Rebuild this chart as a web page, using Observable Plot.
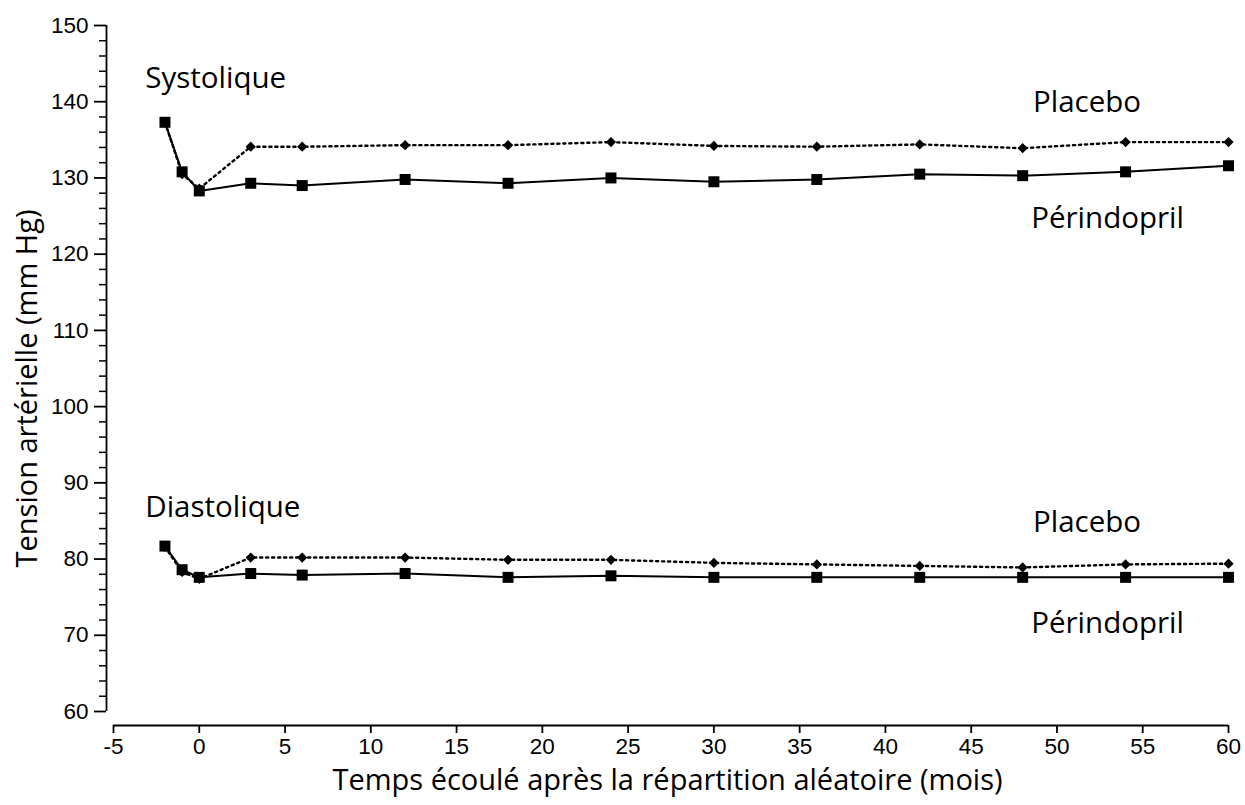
<!DOCTYPE html>
<html>
<head>
<meta charset="utf-8">
<script src="https://cdn.jsdelivr.net/npm/d3@7"></script>
<script src="https://cdn.jsdelivr.net/npm/@observablehq/plot@0.6"></script>
<style>
  html, body { margin: 0; padding: 0; background: #fff; }
  #chart svg { display: block; }
</style>
</head>
<body>
<div id="chart"></div>
<script>
// ---- data ----
const months = [-2, -1, 0, 3, 6, 12, 18, 24, 30, 36, 42, 48, 54, 60];
const sysPerindopril = [137.3, 130.8, 128.3, 129.3, 129.0, 129.8, 129.3, 130.0, 129.5, 129.8, 130.5, 130.3, 130.8, 131.6];
const sysPlacebo     = [137.3, 130.5, 128.6, 134.1, 134.1, 134.3, 134.3, 134.7, 134.2, 134.1, 134.4, 133.9, 134.7, 134.7];
const diaPerindopril = [81.7, 78.6, 77.6, 78.1, 77.9, 78.1, 77.6, 77.8, 77.6, 77.6, 77.6, 77.6, 77.6, 77.6];
const diaPlacebo     = [81.6, 78.3, 77.4, 80.2, 80.2, 80.2, 79.9, 79.9, 79.5, 79.3, 79.1, 78.9, 79.3, 79.4];

const xTicks = d3.range(-5, 61, 5);
const yMajorTicks = d3.range(60, 151, 10);
const yMinorTicks = d3.range(60, 151, 2).filter(v => v % 10 !== 0);

const annotations = [
  {x: -3.15, y: 143.0, text: "Systolique"},
  {x: 48.6, y: 139.9, text: "Placebo"},
  {x: 48.5, y: 124.7, text: "Périndopril"},
  {x: -3.15, y: 86.7, text: "Diastolique"},
  {x: 48.6, y: 84.8, text: "Placebo"},
  {x: 48.5, y: 71.6, text: "Périndopril"}
];

const xTitle = "Temps écoulé après la répartition aléatoire (mois)";
const yTitle = "Tension artérielle (mm Hg)";

const toRows = (vals) => months.map((m, i) => ({x: m, y: vals[i]}));
const sysPer = toRows(sysPerindopril), sysPla = toRows(sysPlacebo);
const diaPer = toRows(diaPerindopril), diaPla = toRows(diaPlacebo);

const tickFont = "'Liberation Sans', Arial, sans-serif";
const textFont = "'Open Sans', 'Noto Sans', sans-serif";

const dotted = {stroke: "#000", strokeWidth: 2.4, strokeDasharray: "2.2,3.8"};
const solid = {stroke: "#000", strokeWidth: 2};

const chart = Plot.plot({
  width: 1245,
  height: 805,
  marginLeft: 106,
  marginRight: 17,
  marginTop: 25,
  marginBottom: 80,
  style: {background: "#fff", color: "#000", overflow: "visible", fontSize: "22.5px", fontFamily: tickFont},
  x: {domain: [-5, 60], range: [113, 1228]},
  y: {domain: [60, 150], range: [711, 25]},
  marks: [
    // axis lines
    Plot.ruleX([-5], {y1: 60, y2: 150, dx: -7, stroke: "#000", strokeWidth: 1.8}),
    Plot.ruleY([60], {x1: -5, x2: 60, dy: 14, stroke: "#000", strokeWidth: 1.8}),
    // y ticks
    Plot.axisY({ticks: yMinorTicks, tickSize: 7, text: null, strokeWidth: 1.5, label: null}),
    Plot.axisY({ticks: yMajorTicks, tickSize: 12, tickPadding: 6, strokeWidth: 1.8, label: null,
      fontSize: 22.5, tickFormat: d => String(d)}),
    // x ticks
    Plot.axisX({ticks: xTicks, tickSize: 8, tickPadding: 5, strokeWidth: 1.8, label: null,
      fontSize: 22.5, tickFormat: d => String(d)}),
    // placebo (dotted, diamonds)
    Plot.line(sysPla, {x: "x", y: "y", ...dotted}),
    Plot.line(diaPla, {x: "x", y: "y", ...dotted}),
    Plot.dot(sysPla, {x: "x", y: "y", symbol: "diamond2", r: 4.6, fill: "#000"}),
    Plot.dot(diaPla, {x: "x", y: "y", symbol: "diamond2", r: 4.6, fill: "#000"}),
    // perindopril (solid, squares)
    Plot.line(sysPer, {x: "x", y: "y", ...solid}),
    Plot.line(diaPer, {x: "x", y: "y", ...solid}),
    Plot.dot(sysPer, {x: "x", y: "y", symbol: "square", r: 6.2, fill: "#000"}),
    Plot.dot(diaPer, {x: "x", y: "y", symbol: "square", r: 6.2, fill: "#000"}),
    // annotations
    Plot.text(annotations, {x: "x", y: "y", text: "text", textAnchor: "start", lineAnchor: "middle",
      fontSize: 29.5, fontFamily: textFont, fill: "#000"}),
    // axis titles
    Plot.text([xTitle], {frameAnchor: "bottom", dy: 55, textAnchor: "middle", lineAnchor: "middle", fontSize: 29,
      fontFamily: textFont, fill: "#000"}),
    Plot.text([yTitle], {frameAnchor: "left", dx: -79, dy: 13, rotate: -90, textAnchor: "middle", lineAnchor: "middle",
      fontSize: 29, fontFamily: textFont, fill: "#000"})
  ]
});
document.getElementById("chart").appendChild(chart);
</script>
</body>
</html>
